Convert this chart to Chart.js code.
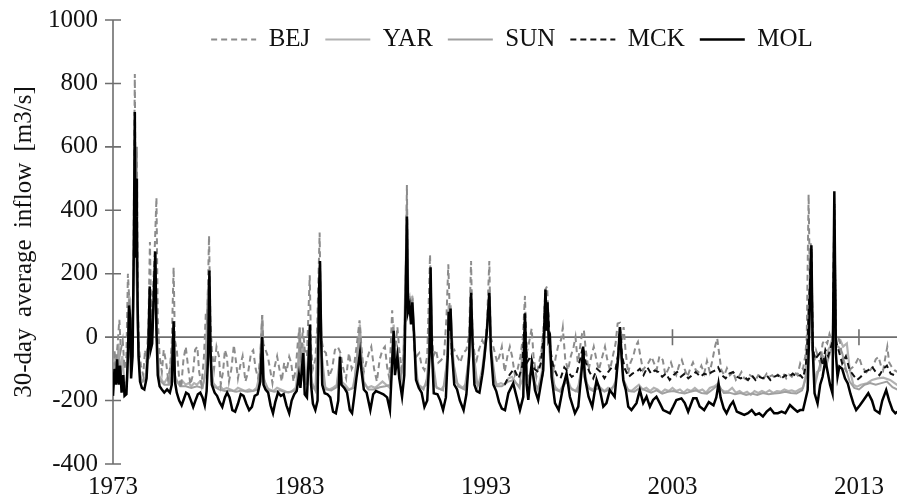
<!DOCTYPE html>
<html><head><meta charset="utf-8">
<script src="https://cdn.jsdelivr.net/npm/chart.js@4"></script>
<style>html,body{margin:0;padding:0;background:#fff}canvas{display:block}</style>
</head><body>
<canvas id="c" width="897" height="500"></canvas>
<script>
const seriesNames = ['BEJ', 'YAR', 'SUN', 'MCK', 'MOL'];
const yearTicks = [1973, 1983, 1993, 2003, 2013];
const valueTicks = [-400, -200, 0, 200, 400, 600, 800, 1000];
const yTitle = '30-day average inflow [m3/s]';

// [decimal year, inflow]
const bejData = [
[1973.00,-130],[1973.08,-40],[1973.15,-90],[1973.25,-20],[1973.34,55],[1973.42,-40],[1973.52,-10],[1973.62,-100],[1973.72,-60],[1973.80,200],[1973.86,130],[1973.93,40],[1974.00,-80],[1974.08,130],[1974.17,830],[1974.22,300],[1974.28,600],[1974.33,100],[1974.40,-40],[1974.50,-90],[1974.62,-120],[1974.72,-40],[1974.80,-80],[1974.90,40],[1974.98,300],[1975.05,60],[1975.15,150],[1975.25,300],[1975.33,440],[1975.40,60],[1975.50,-60],[1975.62,-110],[1975.72,-40],[1975.85,-80],[1975.95,-130],[1976.05,-100],[1976.15,-20],[1976.25,220],[1976.32,-10],[1976.42,-40],[1976.55,-130],[1976.65,-160],[1976.78,-70],[1976.90,-30],[1977.02,-90],[1977.15,-150],[1977.28,-120],[1977.40,-40],[1977.52,-30],[1977.62,-110],[1977.75,-150],[1977.88,-60],[1977.98,80],[1978.05,40],[1978.15,320],[1978.22,60],[1978.30,-40],[1978.42,-100],[1978.55,-30],[1978.68,-60],[1978.78,-150],[1978.90,-110],[1979.00,-40],[1979.10,-60],[1979.22,-140],[1979.35,-100],[1979.48,-25],[1979.58,-70],[1979.70,-130],[1979.82,-90],[1979.95,-60],[1980.10,-140],[1980.25,-110],[1980.40,-50],[1980.52,-41],[1980.65,-100],[1980.78,-130],[1980.90,-60],[1981.00,70],[1981.06,-20],[1981.18,-40],[1981.30,-60],[1981.42,-100],[1981.55,-145],[1981.68,-90],[1981.80,-60],[1981.92,-100],[1982.05,-140],[1982.18,-80],[1982.30,-110],[1982.45,-62],[1982.55,-80],[1982.68,-140],[1982.80,-100],[1982.92,-9],[1983.00,30],[1983.08,-80],[1983.18,30],[1983.28,-40],[1983.40,-60],[1983.55,195],[1983.62,-30],[1983.72,-100],[1983.85,-70],[1983.95,30],[1984.08,330],[1984.16,0],[1984.28,-41],[1984.42,-50],[1984.58,-125],[1984.75,-100],[1984.90,-40],[1985.05,-30],[1985.20,-50],[1985.35,-100],[1985.50,-130],[1985.65,-50],[1985.80,-100],[1985.95,-80],[1986.10,-10],[1986.22,53],[1986.32,-30],[1986.45,-110],[1986.58,-80],[1986.72,-50],[1986.85,-30],[1987.00,-100],[1987.15,-140],[1987.30,-70],[1987.45,-40],[1987.58,-30],[1987.70,-95],[1987.82,-130],[1987.97,85],[1988.05,-10],[1988.15,-30],[1988.25,32],[1988.35,-40],[1988.48,-100],[1988.58,-60],[1988.68,100],[1988.76,480],[1988.82,100],[1988.90,130],[1988.98,110],[1989.06,116],[1989.15,-40],[1989.28,-60],[1989.42,-50],[1989.55,-90],[1989.70,-104],[1989.85,-60],[1990.00,260],[1990.08,40],[1990.18,-60],[1990.32,-40],[1990.45,-80],[1990.60,-72],[1990.75,-60],[1990.88,60],[1990.98,230],[1991.06,74],[1991.15,-50],[1991.30,-40],[1991.45,-60],[1991.62,-80],[1991.78,-50],[1991.95,-40],[1992.10,10],[1992.20,240],[1992.28,0],[1992.38,-50],[1992.50,-72],[1992.62,-40],[1992.80,-10],[1992.95,-30],[1993.05,40],[1993.18,240],[1993.25,0],[1993.35,-20],[1993.48,-50],[1993.60,-80],[1993.72,-60],[1993.85,-30],[1994.00,-110],[1994.15,-60],[1994.28,-30],[1994.40,-60],[1994.55,-120],[1994.70,-100],[1994.85,-60],[1994.98,0],[1995.09,130],[1995.18,-50],[1995.30,-20],[1995.45,27],[1995.55,-60],[1995.70,-125],[1995.85,-80],[1995.98,-40],[1996.10,40],[1996.18,150],[1996.28,160],[1996.38,10],[1996.48,-60],[1996.62,-104],[1996.75,-60],[1996.90,-20],[1997.02,-10],[1997.12,30],[1997.25,-70],[1997.40,-104],[1997.55,-60],[1997.70,-30],[1997.80,0],[1997.92,-80],[1998.05,-30],[1998.15,10],[1998.25,22],[1998.35,-40],[1998.50,-104],[1998.65,-60],[1998.78,-30],[1998.92,-70],[1999.05,-104],[1999.20,-70],[1999.38,-30],[1999.50,-70],[1999.65,-104],[1999.80,-60],[1999.95,-20],[2000.06,43],[2000.18,45],[2000.28,-20],[2000.38,32],[2000.48,-40],[2000.62,-115],[2000.75,-80],[2000.90,-60],[2001.02,-30],[2001.15,-15],[2001.28,-60],[2001.42,-104],[2001.58,-90],[2001.72,-80],[2001.88,-62],[2002.00,-80],[2002.15,-104],[2002.30,-60],[2002.48,-72],[2002.62,-120],[2002.78,-100],[2002.92,-80],[2003.05,-104],[2003.20,-120],[2003.35,-90],[2003.50,-72],[2003.65,-100],[2003.80,-125],[2003.95,-100],[2004.10,-80],[2004.25,-104],[2004.40,-110],[2004.55,-90],[2004.70,-115],[2004.85,-75],[2005.00,-110],[2005.15,-70],[2005.28,-30],[2005.40,-4],[2005.50,-50],[2005.62,-104],[2005.78,-120],[2005.92,-98],[2006.08,-120],[2006.25,-110],[2006.40,-135],[2006.55,-125],[2006.70,-110],[2006.85,-130],[2007.00,-135],[2007.15,-120],[2007.30,-125],[2007.45,-135],[2007.60,-120],[2007.75,-125],[2007.90,-130],[2008.05,-115],[2008.20,-125],[2008.35,-120],[2008.50,-130],[2008.65,-118],[2008.80,-125],[2008.95,-115],[2009.10,-130],[2009.25,-118],[2009.40,-125],[2009.55,-110],[2009.70,-120],[2009.85,-83],[2010.00,-100],[2010.12,-60],[2010.20,0],[2010.30,450],[2010.36,200],[2010.42,300],[2010.50,-40],[2010.60,-80],[2010.70,-42],[2010.80,-60],[2010.92,-83],[2011.05,-20],[2011.15,-9],[2011.30,-20],[2011.42,10],[2011.52,-9],[2011.62,0],[2011.70,300],[2011.78,-10],[2011.88,0],[2011.98,-15],[2012.10,-62],[2012.25,-100],[2012.40,-115],[2012.55,-100],[2012.70,-93],[2012.85,-80],[2013.00,-62],[2013.15,-90],[2013.30,-104],[2013.45,-115],[2013.60,-104],[2013.75,-93],[2013.90,-70],[2014.05,-62],[2014.18,-90],[2014.30,-104],[2014.42,-62],[2014.52,-30],[2014.62,-80],[2014.75,-93],[2014.90,-104],[2015.06,-110]
];

const yarData = [
[1973.00,-150],[1973.10,-60],[1973.20,-120],[1973.30,-20],[1973.40,-130],[1973.50,-60],[1973.62,-150],[1973.75,-140],[1973.86,130],[1973.92,120],[1973.98,-100],[1974.08,100],[1974.17,600],[1974.24,300],[1974.30,100],[1974.36,-40],[1974.45,-125],[1974.60,-140],[1974.75,-125],[1974.90,-10],[1974.97,130],[1975.04,-20],[1975.20,120],[1975.27,240],[1975.35,0],[1975.45,-120],[1975.60,-135],[1975.75,-145],[1975.90,-130],[1976.05,-145],[1976.15,-120],[1976.25,30],[1976.32,-120],[1976.45,-140],[1976.60,-150],[1976.75,-140],[1976.90,-150],[1977.05,-145],[1977.20,-155],[1977.35,-145],[1977.50,-150],[1977.65,-140],[1977.80,-155],[1977.95,-120],[1978.05,80],[1978.12,180],[1978.20,-30],[1978.28,-140],[1978.45,-150],[1978.60,-160],[1978.75,-155],[1978.90,-165],[1979.10,-160],[1979.30,-165],[1979.50,-170],[1979.70,-160],[1979.90,-165],[1980.10,-170],[1980.30,-165],[1980.50,-170],[1980.70,-160],[1980.90,-110],[1981.00,70],[1981.07,-120],[1981.20,-160],[1981.40,-165],[1981.60,-170],[1981.80,-160],[1982.00,-165],[1982.20,-170],[1982.40,-175],[1982.60,-170],[1982.80,-160],[1982.95,-90],[1983.02,30],[1983.08,-130],[1983.20,-20],[1983.28,-150],[1983.45,-120],[1983.56,30],[1983.62,-120],[1983.72,-160],[1983.85,-165],[1984.00,-120],[1984.05,150],[1984.10,230],[1984.16,20],[1984.25,-140],[1984.40,-160],[1984.60,-165],[1984.80,-160],[1985.00,-150],[1985.17,-60],[1985.25,-140],[1985.45,-150],[1985.65,-165],[1985.85,-160],[1986.00,-120],[1986.12,-40],[1986.24,40],[1986.32,-60],[1986.45,-140],[1986.65,-160],[1986.85,-155],[1987.05,-160],[1987.25,-150],[1987.45,-140],[1987.65,-150],[1987.85,-160],[1987.97,-60],[1988.05,40],[1988.12,-90],[1988.25,-40],[1988.40,-120],[1988.55,-100],[1988.68,160],[1988.76,420],[1988.82,120],[1988.90,130],[1988.98,90],[1989.05,130],[1989.15,20],[1989.25,-120],[1989.40,-150],[1989.60,-160],[1989.80,-150],[1989.97,-40],[1990.03,200],[1990.10,-20],[1990.20,-150],[1990.40,-160],[1990.60,-165],[1990.80,-150],[1990.95,-40],[1991.00,100],[1991.05,60],[1991.10,100],[1991.20,-40],[1991.35,-140],[1991.55,-150],[1991.75,-160],[1991.95,-145],[1992.10,-40],[1992.20,150],[1992.28,0],[1992.40,-140],[1992.60,-150],[1992.80,-100],[1992.92,-40],[1993.05,30],[1993.18,150],[1993.26,-20],[1993.40,-130],[1993.60,-150],[1993.80,-145],[1994.00,-150],[1994.20,-130],[1994.40,-125],[1994.60,-145],[1994.80,-155],[1995.00,-130],[1995.09,60],[1995.18,-120],[1995.30,-140],[1995.45,-100],[1995.60,-150],[1995.80,-160],[1996.00,-110],[1996.10,20],[1996.19,140],[1996.25,30],[1996.31,100],[1996.40,-40],[1996.55,-140],[1996.75,-160],[1996.95,-170],[1997.15,-150],[1997.35,-130],[1997.55,-160],[1997.80,-170],[1998.00,-150],[1998.21,-60],[1998.35,-140],[1998.55,-160],[1998.75,-165],[1998.95,-145],[1999.15,-160],[1999.35,-170],[1999.55,-160],[1999.75,-165],[1999.95,-140],[2000.10,-60],[2000.18,20],[2000.28,-60],[2000.40,-150],[2000.60,-165],[2000.80,-170],[2001.00,-160],[2001.20,-150],[2001.40,-165],[2001.60,-160],[2001.80,-170],[2002.00,-160],[2002.20,-165],[2002.40,-175],[2002.60,-165],[2002.80,-170],[2003.00,-160],[2003.20,-170],[2003.40,-165],[2003.60,-175],[2003.80,-165],[2004.00,-170],[2004.20,-160],[2004.40,-170],[2004.60,-165],[2004.80,-175],[2005.00,-160],[2005.25,-155],[2005.45,-146],[2005.60,-165],[2005.80,-172],[2006.00,-170],[2006.20,-160],[2006.40,-175],[2006.60,-170],[2006.80,-178],[2007.00,-172],[2007.20,-182],[2007.40,-170],[2007.60,-176],[2007.80,-170],[2008.00,-175],[2008.20,-168],[2008.40,-176],[2008.60,-170],[2008.80,-172],[2009.00,-165],[2009.20,-170],[2009.40,-168],[2009.60,-172],[2009.80,-165],[2010.00,-160],[2010.15,-120],[2010.25,0],[2010.35,150],[2010.45,250],[2010.52,-20],[2010.60,-140],[2010.75,-110],[2010.92,-104],[2011.05,-60],[2011.20,-80],[2011.35,-40],[2011.45,-30],[2011.60,0],[2011.68,300],[2011.76,-20],[2011.90,-10],[2012.00,-9],[2012.15,-30],[2012.35,-20],[2012.50,-100],[2012.70,-150],[2012.90,-156],[2013.10,-150],[2013.42,-146],[2013.70,-135],[2014.00,-130],[2014.30,-128],[2014.67,-135],[2015.06,-151]
];

const sunData = [
[1973.00,-160],[1973.15,-100],[1973.30,-50],[1973.45,-140],[1973.60,-160],[1973.75,-150],[1973.86,110],[1973.98,-110],[1974.08,80],[1974.17,560],[1974.24,250],[1974.32,60],[1974.40,-100],[1974.55,-140],[1974.75,-135],[1974.90,-30],[1974.97,120],[1975.05,-30],[1975.20,100],[1975.27,220],[1975.36,-20],[1975.50,-135],[1975.75,-150],[1976.00,-150],[1976.25,20],[1976.32,-130],[1976.60,-155],[1976.90,-155],[1977.20,-160],[1977.50,-155],[1977.80,-160],[1977.98,-100],[1978.12,160],[1978.22,-60],[1978.40,-155],[1978.70,-165],[1979.00,-170],[1979.30,-168],[1979.60,-172],[1979.90,-168],[1980.20,-172],[1980.50,-170],[1980.80,-165],[1981.00,50],[1981.07,-130],[1981.35,-168],[1981.65,-172],[1981.95,-168],[1982.25,-174],[1982.55,-172],[1982.85,-165],[1983.02,10],[1983.10,-140],[1983.22,-40],[1983.35,-150],[1983.56,20],[1983.64,-140],[1983.85,-168],[1984.10,210],[1984.20,-60],[1984.40,-165],[1984.70,-168],[1985.00,-158],[1985.17,-70],[1985.30,-150],[1985.60,-168],[1985.90,-160],[1986.24,20],[1986.40,-140],[1986.70,-165],[1987.00,-165],[1987.30,-158],[1987.60,-155],[1987.90,-150],[1988.05,20],[1988.15,-100],[1988.30,-70],[1988.45,-130],[1988.62,-60],[1988.76,400],[1988.85,100],[1988.95,80],[1989.05,110],[1989.18,-40],[1989.35,-150],[1989.65,-165],[1989.90,-120],[1990.03,190],[1990.12,-60],[1990.35,-160],[1990.70,-168],[1990.95,-60],[1991.02,80],[1991.10,90],[1991.25,-80],[1991.50,-155],[1991.85,-165],[1992.10,-60],[1992.20,130],[1992.30,-30],[1992.55,-155],[1992.85,-110],[1993.05,10],[1993.18,130],[1993.28,-40],[1993.55,-155],[1993.85,-155],[1994.20,-140],[1994.50,-135],[1994.80,-160],[1995.09,50],[1995.20,-130],[1995.45,-110],[1995.75,-165],[1996.05,-120],[1996.19,130],[1996.26,20],[1996.33,90],[1996.45,-60],[1996.70,-165],[1997.00,-172],[1997.30,-140],[1997.60,-165],[1997.90,-172],[1998.21,-70],[1998.45,-160],[1998.75,-170],[1999.05,-160],[1999.35,-172],[1999.65,-165],[1999.95,-150],[2000.18,10],[2000.35,-130],[2000.65,-170],[2000.95,-172],[2001.25,-160],[2001.55,-168],[2001.85,-175],[2002.15,-168],[2002.45,-178],[2002.75,-172],[2003.05,-170],[2003.35,-175],[2003.65,-178],[2003.95,-172],[2004.25,-168],[2004.55,-176],[2004.85,-178],[2005.15,-165],[2005.45,-150],[2005.75,-176],[2006.05,-175],[2006.35,-180],[2006.65,-176],[2006.95,-182],[2007.25,-178],[2007.55,-182],[2007.85,-176],[2008.15,-180],[2008.45,-178],[2008.75,-176],[2009.05,-172],[2009.35,-176],[2009.65,-178],[2009.95,-168],[2010.15,-130],[2010.25,-10],[2010.35,130],[2010.45,230],[2010.52,-40],[2010.65,-150],[2010.85,-100],[2011.05,-60],[2011.25,-90],[2011.45,-50],[2011.60,-20],[2011.68,280],[2011.76,-30],[2011.90,-30],[2012.10,-50],[2012.30,-100],[2012.50,-140],[2012.75,-160],[2013.00,-165],[2013.30,-150],[2013.60,-145],[2013.90,-150],[2014.20,-145],[2014.50,-140],[2014.80,-158],[2015.06,-165]
];

const mckData = [
[1994.00,-150],[1994.25,-120],[1994.50,-100],[1994.75,-130],[1994.95,-90],[1995.09,70],[1995.20,-80],[1995.40,-60],[1995.60,-100],[1995.80,-110],[1995.95,-80],[1996.10,20],[1996.19,140],[1996.26,40],[1996.33,80],[1996.45,-40],[1996.60,-90],[1996.80,-120],[1997.00,-130],[1997.20,-95],[1997.40,-110],[1997.60,-125],[1997.85,-115],[1998.05,-70],[1998.20,-30],[1998.35,-80],[1998.55,-110],[1998.75,-130],[1998.95,-100],[1999.15,-110],[1999.35,-130],[1999.55,-110],[1999.75,-95],[1999.95,-100],[2000.10,-50],[2000.18,25],[2000.30,-60],[2000.45,-100],[2000.65,-125],[2000.85,-115],[2001.05,-110],[2001.25,-100],[2001.45,-120],[2001.65,-95],[2001.85,-115],[2002.05,-105],[2002.25,-110],[2002.45,-125],[2002.65,-115],[2002.85,-135],[2003.05,-120],[2003.25,-110],[2003.45,-125],[2003.65,-115],[2003.85,-130],[2004.05,-120],[2004.25,-110],[2004.50,-125],[2004.70,-115],[2004.90,-120],[2005.10,-110],[2005.30,-105],[2005.45,-95],[2005.65,-120],[2005.85,-130],[2006.05,-115],[2006.25,-110],[2006.45,-125],[2006.65,-130],[2006.85,-125],[2007.05,-135],[2007.25,-120],[2007.45,-135],[2007.65,-125],[2007.85,-130],[2008.05,-120],[2008.25,-135],[2008.45,-125],[2008.65,-120],[2008.85,-130],[2009.05,-120],[2009.25,-125],[2009.45,-115],[2009.65,-125],[2009.85,-120],[2010.00,-130],[2010.15,-90],[2010.25,0],[2010.35,150],[2010.45,280],[2010.52,-20],[2010.62,-70],[2010.75,-62],[2010.90,-51],[2011.05,-90],[2011.20,-40],[2011.35,-60],[2011.50,-30],[2011.60,-10],[2011.68,420],[2011.76,-10],[2011.85,-30],[2011.95,-50],[2012.10,-83],[2012.30,-60],[2012.50,-104],[2012.70,-120],[2012.90,-135],[2013.10,-125],[2013.30,-110],[2013.50,-104],[2013.70,-93],[2013.90,-110],[2014.10,-120],[2014.30,-100],[2014.50,-90],[2014.70,-115],[2014.90,-120],[2015.06,-125]
];

const molData = [
[1973.00,-185],[1973.08,-100],[1973.15,-150],[1973.22,-70],[1973.30,-150],[1973.38,-90],[1973.46,-175],[1973.55,-120],[1973.62,-185],[1973.72,-180],[1973.80,-60],[1973.86,100],[1973.92,60],[1973.97,-130],[1974.05,-60],[1974.12,300],[1974.17,710],[1974.20,250],[1974.24,500],[1974.28,380],[1974.32,100],[1974.37,-60],[1974.45,-140],[1974.55,-160],[1974.68,-165],[1974.80,-130],[1974.90,-20],[1974.97,160],[1975.02,-40],[1975.10,-20],[1975.20,160],[1975.27,270],[1975.33,20],[1975.40,-120],[1975.50,-155],[1975.62,-165],[1975.75,-175],[1975.90,-165],[1976.05,-175],[1976.15,-150],[1976.25,50],[1976.32,-140],[1976.42,-175],[1976.55,-200],[1976.68,-215],[1976.80,-195],[1976.92,-175],[1977.05,-180],[1977.18,-200],[1977.30,-220],[1977.42,-200],[1977.55,-180],[1977.68,-175],[1977.80,-190],[1977.92,-215],[1978.02,-170],[1978.10,-60],[1978.17,210],[1978.23,-40],[1978.30,-150],[1978.45,-175],[1978.58,-185],[1978.72,-205],[1978.86,-220],[1979.00,-190],[1979.12,-175],[1979.25,-190],[1979.40,-230],[1979.55,-235],[1979.70,-210],[1979.85,-180],[1980.00,-185],[1980.15,-210],[1980.30,-230],[1980.45,-220],[1980.60,-185],[1980.75,-180],[1980.90,-140],[1981.00,0],[1981.07,-150],[1981.18,-165],[1981.32,-175],[1981.45,-215],[1981.58,-240],[1981.70,-205],[1981.85,-175],[1982.00,-185],[1982.15,-180],[1982.30,-215],[1982.45,-240],[1982.58,-200],[1982.72,-180],[1982.85,-170],[1982.97,-120],[1983.05,-160],[1983.13,-100],[1983.20,-50],[1983.28,-180],[1983.40,-190],[1983.50,-60],[1983.56,40],[1983.62,-150],[1983.72,-210],[1983.85,-230],[1983.97,-200],[1984.05,150],[1984.10,240],[1984.16,0],[1984.22,-150],[1984.35,-177],[1984.50,-180],[1984.65,-190],[1984.80,-235],[1984.95,-240],[1985.08,-200],[1985.17,-62],[1985.25,-150],[1985.40,-160],[1985.55,-175],[1985.70,-230],[1985.82,-240],[1985.95,-180],[1986.05,-130],[1986.15,-90],[1986.24,-50],[1986.32,-104],[1986.45,-165],[1986.60,-175],[1986.80,-230],[1986.95,-180],[1987.10,-170],[1987.30,-175],[1987.50,-180],[1987.70,-190],[1987.85,-230],[1987.95,-104],[1988.05,20],[1988.12,-120],[1988.25,-60],[1988.35,-130],[1988.50,-188],[1988.62,-120],[1988.70,150],[1988.76,380],[1988.82,80],[1988.90,100],[1988.98,40],[1989.05,110],[1989.15,0],[1989.25,-135],[1989.40,-160],[1989.55,-175],[1989.70,-220],[1989.85,-200],[1989.97,-60],[1990.03,220],[1990.10,-40],[1990.20,-177],[1990.40,-180],[1990.55,-200],[1990.70,-230],[1990.85,-190],[1990.95,-60],[1991.00,80],[1991.05,20],[1991.10,90],[1991.18,-50],[1991.30,-150],[1991.45,-165],[1991.60,-200],[1991.80,-230],[1991.95,-180],[1992.10,-60],[1992.20,140],[1992.28,-20],[1992.38,-150],[1992.50,-170],[1992.65,-175],[1992.80,-120],[1992.92,-60],[1993.05,20],[1993.18,140],[1993.26,-40],[1993.40,-150],[1993.55,-170],[1993.70,-205],[1993.85,-225],[1994.02,-230],[1994.20,-177],[1994.46,-146],[1994.64,-188],[1994.82,-230],[1995.00,-188],[1995.09,75],[1995.18,-150],[1995.27,-198],[1995.36,-135],[1995.45,-83],[1995.63,-167],[1995.80,-198],[1995.89,-167],[1996.07,-104],[1996.14,40],[1996.19,150],[1996.24,20],[1996.30,110],[1996.36,-10],[1996.43,0],[1996.52,-125],[1996.70,-208],[1996.90,-230],[1997.14,-156],[1997.32,-115],[1997.50,-188],[1997.77,-240],[1997.95,-219],[1998.13,-104],[1998.21,-30],[1998.30,-125],[1998.50,-188],[1998.70,-219],[1998.93,-135],[1999.11,-167],[1999.29,-219],[1999.46,-208],[1999.64,-167],[1999.90,-188],[2000.09,-62],[2000.18,32],[2000.27,-60],[2000.36,-135],[2000.50,-167],[2000.63,-219],[2000.80,-230],[2001.07,-208],[2001.25,-167],[2001.43,-208],[2001.61,-188],[2001.79,-219],[2001.96,-198],[2002.14,-188],[2002.32,-208],[2002.50,-230],[2002.68,-235],[2002.86,-240],[2003.04,-219],[2003.21,-198],[2003.48,-193],[2003.66,-208],[2003.84,-235],[2004.11,-193],[2004.29,-193],[2004.46,-219],[2004.70,-230],[2004.95,-205],[2005.20,-215],[2005.35,-190],[2005.47,-146],[2005.58,-190],[2005.75,-225],[2005.90,-240],[2006.10,-215],[2006.25,-203],[2006.45,-235],[2006.65,-240],[2006.85,-245],[2007.05,-240],[2007.25,-230],[2007.45,-245],[2007.65,-240],[2007.85,-250],[2008.05,-235],[2008.25,-225],[2008.45,-240],[2008.65,-240],[2008.85,-235],[2009.05,-240],[2009.30,-214],[2009.50,-225],[2009.70,-235],[2009.85,-230],[2010.00,-230],[2010.12,-200],[2010.25,-167],[2010.35,60],[2010.45,290],[2010.52,-40],[2010.62,-177],[2010.78,-209],[2010.92,-150],[2011.05,-125],[2011.20,-72],[2011.32,-110],[2011.45,-150],[2011.58,-177],[2011.68,460],[2011.76,-50],[2011.85,-125],[2011.95,-93],[2012.10,-100],[2012.25,-130],[2012.40,-146],[2012.55,-180],[2012.70,-209],[2012.85,-230],[2013.05,-215],[2013.25,-198],[2013.50,-177],[2013.70,-200],[2013.85,-230],[2014.10,-240],[2014.25,-200],[2014.46,-167],[2014.62,-200],[2014.80,-230],[2014.95,-240],[2015.06,-235]
];

const FONT = "'Liberation Serif', 'Times New Roman', serif";
Chart.defaults.font.family = FONT;
Chart.defaults.color = '#111';

function toPoints(rows) { return rows.map(r => ({ x: r[0], y: r[1] })); }

const axisPlugin = {
  id: 'axisDecor',
  beforeDraw(chart) { chart.ctx.wordSpacing = '5px'; },
  afterDraw(chart) { chart.ctx.wordSpacing = '0px'; },
  beforeLayout(chart) {
    const lg = chart.legend;
    if (lg && !lg.__patched) {
      const fit = lg.fit;
      lg.fit = function () { fit.call(this); this.__h = this.height; this.height = 0; };
      lg.__patched = true;
    }
  },
  afterLayout(chart) {
    const lg = chart.legend;
    if (lg && lg.__h !== undefined) {
      lg.top = chart.chartArea.top - 8;
      lg.height = lg.__h;
      lg.bottom = lg.top + lg.__h;
      lg.left += 7; lg.right += 7;
    }
  },
  beforeDatasetsDraw(chart) {
    const { ctx, chartArea, scales } = chart;
    const x = scales.x, y = scales.y;
    ctx.save();
    ctx.strokeStyle = '#6e6e6e';
    ctx.lineWidth = 1.6;
    ctx.beginPath();
    const y0 = y.getPixelForValue(0);
    ctx.moveTo(chartArea.left, y0); ctx.lineTo(chartArea.right, y0);
    x.ticks.forEach(t => {
      const px = x.getPixelForValue(t.value);
      ctx.moveTo(px, y0 - 8); ctx.lineTo(px, y0 + 8);
    });
    ctx.moveTo(chartArea.left, chartArea.top); ctx.lineTo(chartArea.left, chartArea.bottom);
    y.ticks.forEach(t => {
      const py = y.getPixelForValue(t.value);
      ctx.moveTo(chartArea.left - 8, py); ctx.lineTo(chartArea.left + 8, py);
    });
    ctx.stroke();
    ctx.restore();
  }
};

const styles = {
  BEJ: { color: '#8c8c8c', width: 2, dash: [6, 4], order: 2 },
  YAR: { color: '#b2b2b2', width: 2.2, dash: [], order: 4 },
  SUN: { color: '#a0a0a0', width: 2, dash: [], order: 3 },
  MCK: { color: '#111111', width: 2, dash: [6, 4], order: 1 },
  MOL: { color: '#000000', width: 2.5, dash: [], order: 0 }
};
const seriesRows = { BEJ: bejData, YAR: yarData, SUN: sunData, MCK: mckData, MOL: molData };

const datasets = seriesNames.map(name => ({
  label: name,
  data: toPoints(seriesRows[name]),
  borderColor: styles[name].color,
  backgroundColor: styles[name].color,
  borderWidth: styles[name].width,
  borderDash: styles[name].dash,
  order: styles[name].order,
  pointRadius: 0,
  fill: false,
  tension: 0
}));

new Chart(document.getElementById('c'), {
  type: 'line',
  data: { datasets },
  plugins: [axisPlugin],
  options: {
    responsive: false,
    animation: false,
    devicePixelRatio: 1,
    layout: { padding: { top: 20, left: 0, right: 0, bottom: 0 } },
    plugins: {
      legend: {
        position: 'top',
        fullSize: false,
        labels: {
          usePointStyle: true,
          pointStyle: 'line',
          pointStyleWidth: 45,
          boxHeight: 10,
          padding: 15,
          color: '#111',
          font: { family: FONT, size: 25 },
          sort: (a, b) => a.datasetIndex - b.datasetIndex,
          generateLabels: (chart) => {
            const items = Chart.defaults.plugins.legend.labels.generateLabels(chart);
            items.forEach(it => {
              const ds = chart.data.datasets[it.datasetIndex];
              it.lineDash = ds.borderDash;
              it.strokeStyle = ds.borderColor;
              it.fillStyle = ds.borderColor;
              it.lineWidth = ds.borderWidth;
              it.pointStyle = 'line';
            });
            return items;
          }
        }
      },
      tooltip: { enabled: false }
    },
    scales: {
      x: {
        type: 'linear',
        min: 1973,
        max: 2015.04,
        border: { display: false },
        grid: { display: false },
        afterBuildTicks: s => { s.ticks = yearTicks.map(v => ({ value: v })); },
        afterFit: s => { s.height = 36; },
        ticks: {
          autoSkip: false, maxRotation: 0, padding: 3,
          color: '#111',
          font: { family: FONT, size: 25, lineHeight: 1 },
          callback: v => String(v)
        }
      },
      y: {
        min: -400,
        max: 1000,
        border: { display: false },
        grid: { display: false },
        afterBuildTicks: s => { s.ticks = valueTicks.map(v => ({ value: v })); },
        afterFit: s => { s.width = 113; },
        ticks: {
          padding: 7,
          color: '#111',
          font: { family: FONT, size: 25, lineHeight: 1 },
          callback: v => String(v)
        },
        title: {
          display: true,
          text: yTitle,
          color: '#111',
          font: { family: FONT, size: 25 },
          padding: { top: 9, bottom: 0 }
        }
      }
    }
  }
});
</script>
</body></html>
